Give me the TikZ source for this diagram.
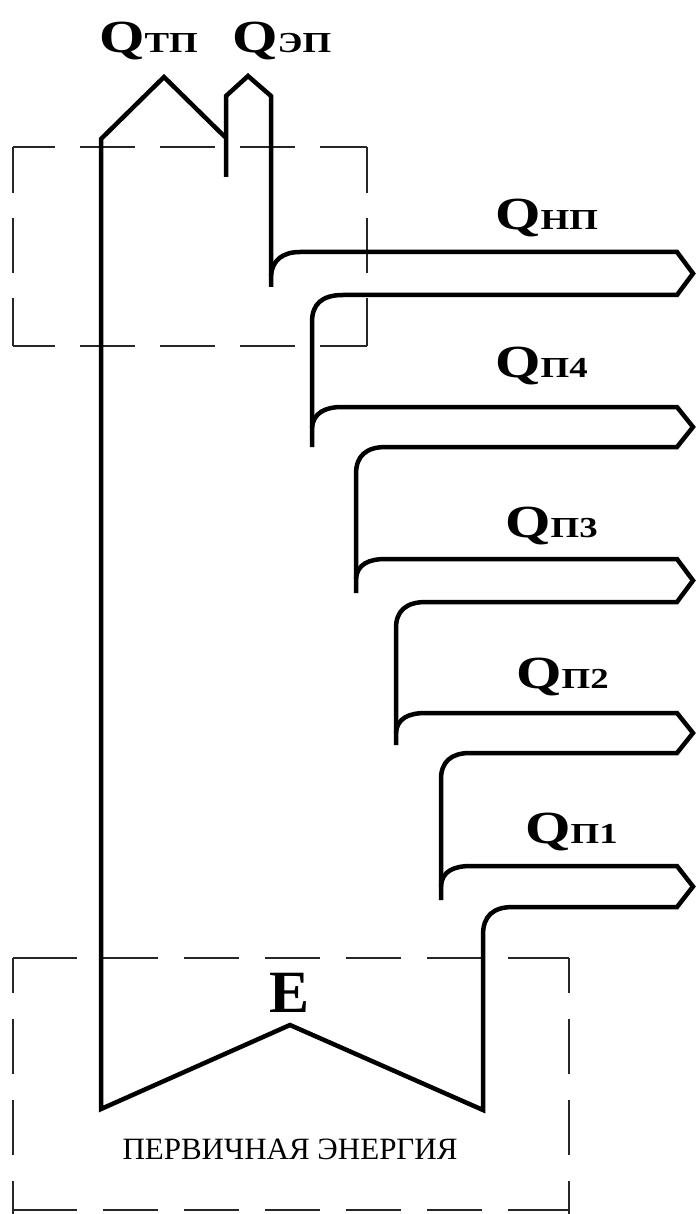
\documentclass[tikz,border=0pt]{standalone}
\usepackage{fontspec}
\usepackage{graphicx}
\setmainfont{Liberation Serif}
\newcommand{\qlab}[1]{\scalebox{1.27}[1]{\fontsize{46}{46}\selectfont Q\fontsize{29}{29}\selectfont #1}}
\begin{document}
\begin{tikzpicture}[x=1pt,y=-1pt,
  flow/.style={line width=4.5pt, line join=miter, line cap=butt, black},
  frame/.style={line width=1.4pt, black!85},
  lab/.style={font=\bfseries, inner sep=0pt, anchor=base west},
  txt/.style={inner sep=0pt, anchor=base}]
\useasboundingbox (0,0) rectangle (697,1214);
% dashed frames
\begin{scope}[frame, dash pattern=on 55pt off 25pt, dash phase=13pt]
  \draw (13,147) -- (367,147);
  \draw (13,346) -- (367,346);
\end{scope}
\begin{scope}[frame, dash pattern=on 55pt off 25pt, dash phase=9pt]
  \draw (13,147) -- (13,346);
  \draw (367,147) -- (367,346);
\end{scope}
\begin{scope}[frame, dash pattern=on 64pt off 26pt on 55pt off 26pt on 55pt off 26pt on 55pt off 26pt on 55pt off 26pt on 55pt off 26pt on 64pt off 26pt]
  \draw (13,958) -- (569,958);
  \draw (13,1210) -- (569,1210);
\end{scope}
\begin{scope}[frame, dash pattern=on 55pt off 26pt, dash phase=20pt]
  \draw (13,958) -- (13,1214);
  \draw (569,958) -- (569,1214);
\end{scope}
% flows
\draw[flow] (226,177) -- (226,96) -- (248,76) -- (271,96) -- (271,287);
\draw[flow] (271,276) .. controls (272,260) and (283,252) .. (300,252) -- (677,252) -- (693,273.5) -- (677,295) -- (343,295) .. controls (322,295) and (312,304) .. (312,322) -- (312,447);
\draw[flow] (312,428) .. controls (313,413) and (325,407) .. (342,407) -- (677,407) -- (693,427) -- (677,447) -- (386,447) .. controls (366,447) and (356,456) .. (356,474) -- (356,593);
\draw[flow] (356,579) .. controls (357,564) and (369,559) .. (386,559) -- (677,559) -- (693,580.5) -- (677,602) -- (426,602) .. controls (406,602) and (396,611) .. (396,628) -- (396,745);
\draw[flow] (396,733) .. controls (397,718) and (409,713) .. (426,713) -- (677,713) -- (693,733) -- (677,753) -- (470,753) .. controls (451,753) and (441,762) .. (441,779) -- (441,900);
\draw[flow] (441,886) .. controls (442,871) and (454,866) .. (471,866) -- (677,866) -- (693,886.5) -- (677,907) -- (513,907) .. controls (493,907) and (483,916) .. (483,935) -- (483,1110) -- (290,1025) -- (101,1109) -- (101,139) -- (164,77) -- (225,137);
% labels
\node[lab] (qtp) at (99,53) {\qlab{ТП}};
\node[lab] (qep) at (232,53) {\qlab{ЭП}};
\node[lab] (qnp) at (495,230) {\qlab{НП}};
\node[lab] (qp4) at (495,377) {\qlab{П4}};
\node[lab] (qp3) at (505,537) {\qlab{П3}};
\node[lab] (qp2) at (516,688) {\qlab{П2}};
\node[lab] (qp1) at (525,843) {\qlab{П1}};
\node[txt, font=\bfseries\fontsize{60}{60}\selectfont] (e) at (290,1012) {E};
\node[txt, font=\fontsize{31}{31}\selectfont] (pe) at (290,1159) {ПЕРВИЧНАЯ ЭНЕРГИЯ};
\end{tikzpicture}
\end{document}
